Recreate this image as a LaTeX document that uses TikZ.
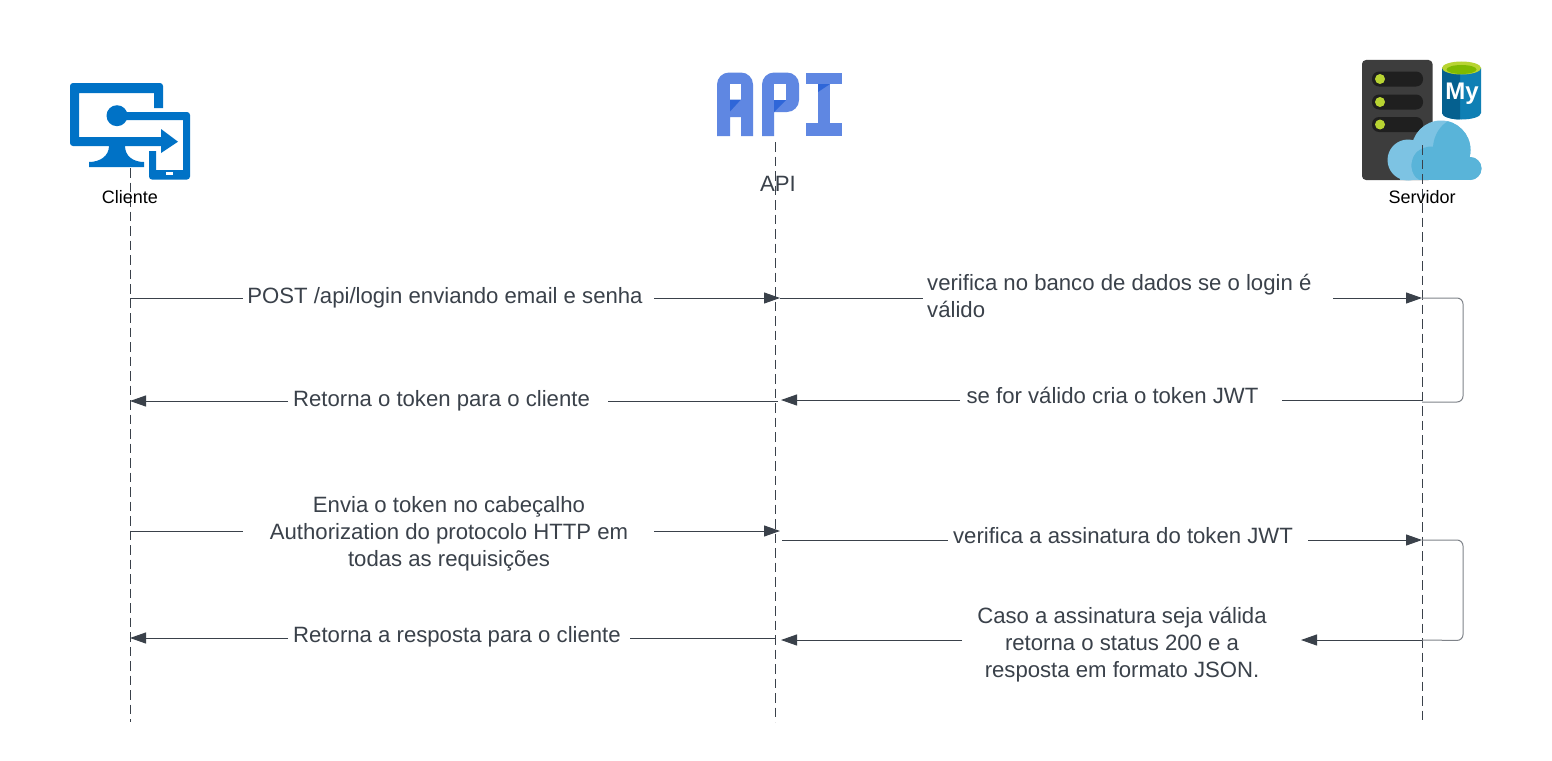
\documentclass[tikz,border=0pt]{standalone}
\usepackage{fontspec}
\setmainfont{Liberation Sans}
\usetikzlibrary{arrows.meta}
\definecolor{inkc}{HTML}{3A414A}
\definecolor{azureb}{HTML}{0072C6}
\definecolor{apib}{HTML}{5F87E2}
\definecolor{apid}{HTML}{2F66D8}
\definecolor{limeg}{HTML}{B8D432}
\definecolor{limed}{HTML}{7FBA00}
\definecolor{mysqlb}{HTML}{0F7FB4}
\definecolor{mysqld}{HTML}{05608F}
\definecolor{cloudl}{HTML}{7DC3E3}
\definecolor{cloudd}{HTML}{59B4D9}
\tikzset{
  lifeline/.style={draw=inkc, line width=0.9pt, dash pattern=on 9.5pt off 5pt},
  msg/.style={draw=inkc, line width=1pt, -{Triangle[length=16pt,width=11pt]}},
  selfcall/.style={draw=inkc!65!white, line width=1pt, rounded corners=6pt},
  lbl/.style={text=inkc, font=\fontsize{22.15}{27}\selectfont, align=center, inner sep=0pt},
  iconcap/.style={text=black, font=\fontsize{18}{20}\selectfont, inner sep=0pt},
}
\newcommand\cloudShape{
    \fill (1408,160) circle (20.5);
    \fill (1441,150) circle (29.5);
    \fill (1470,168.5) circle (11.5);
    \fill (1408,160) rectangle (1470,180);
    \fill (1400,170) rectangle (1408,180);
}
\begin{document}
\begin{tikzpicture}[x=1pt, y=-1pt]
    \useasboundingbox (0,0) rectangle (1552,760);
    \fill[white] (0,0) rectangle (1552,760);

    % client icon
    \fill[azureb, rounded corners=3pt] (163,108) -- (163,83) -- (70,83) -- (70,146)
        [sharp corners] -- (162,146) -- (162,137) -- (79,137) -- (79,93) -- (154,93) -- (154,108) -- cycle;
    \fill[azureb] (109,146) .. controls (109,156) and (100,162) .. (89,162) -- (89,167)
        -- (144,167) -- (144,162) .. controls (133,162) and (125,156) .. (125,146) -- cycle;
    \fill[azureb, rounded corners=3pt] (117,112) -- (190,112) -- (190,179.5) -- (149,179.5)
        [sharp corners] -- (149,151) -- (156,151) -- (156,170) -- (183,170) -- (183,120) -- (117,120) -- cycle;
    \fill[azureb] (117,115.7) circle (10.5);
    \fill[azureb] (161,129) -- (178,141.7) -- (161,153) -- cycle;
    \fill[white] (166,172) rectangle (173,175);

    % api icon
    \fill[apib, rounded corners=12pt] (717,136) -- (717,72.5) -- (753,72.5)
        [sharp corners] -- (753,136) -- (741,136) -- (741,117) -- (730,117) -- (730,136) -- cycle;
    \fill[white] (730,84) rectangle (741,99.5);
    \fill[apid] (730,111.5) -- (730,99.5) -- (741,99.5) -- cycle;
    \fill[apib] (762,136) -- (762,85) [rounded corners=12pt] -- (762,72.5) -- (799,72.5) -- (799,112)
        [sharp corners] -- (774,112) -- (774,136) -- cycle;
    \fill[white] (774,84) rectangle (786,100);
    \fill[apid] (774,112) -- (774,100) -- (786,100) -- cycle;
    \fill[apib] (806,72.5) rectangle (842,84);
    \fill[apib] (806,123) rectangle (842,136);
    \fill[apib] (818,84) rectangle (830,123);
    \fill[apid] (818,92) -- (818,84) -- (830,84) -- cycle;

    % server icon
    \fill[black!76, rounded corners=4pt] (1362,60) rectangle (1432.5,180);
    \foreach \ypos in {79,102,124.5} {
      \fill[black!88, rounded corners=7pt] (1372,\ypos-7.5) rectangle (1423,\ypos+7.5);
      \fill[limeg] (1380,\ypos) circle (5);
    }
    \fill[mysqlb] (1442,68) -- (1442,113) .. controls (1442,117) and (1452,119.5) .. (1461.5,119.5)
        .. controls (1471,119.5) and (1481,117) .. (1481,113) -- (1481,68) -- cycle;
    \fill[mysqld] (1442,68) -- (1442,113) .. controls (1442,117) and (1452,119.5) .. (1460,119.5)
        -- (1460,68) -- cycle;
    \fill[limeg] (1461.5,68) ellipse (19.5 and 6.5);
    \fill[limed] (1461.5,69.5) ellipse (15 and 4.5);
    \node[font=\bfseries\fontsize{24}{24}\selectfont, text=white, inner sep=0pt] (mysql) at (1462,94) {My};
    \begin{scope}[cloudl]
      \cloudShape
    \end{scope}
    \begin{scope}[cloudd]
      \clip (1422,181) .. controls (1412,178) and (1409,165) .. (1414,156)
        .. controls (1418,149) and (1426,146) .. (1433,146.5)
        .. controls (1434,135) and (1440,125) .. (1450,120) -- (1490,115) -- (1490,181) -- cycle;
      \cloudShape
    \end{scope}

    % lifelines
    \coordinate (cliTop) at (130,168);
    \coordinate (cliEnd) at (130,722);
    \coordinate (apiTop) at (775,142);
    \coordinate (apiEnd) at (775,722);
    \coordinate (srvTop) at (1422,145);
    \coordinate (srvEnd) at (1422,722);
    \draw[lifeline] (cliTop) -- (cliEnd);
    \draw[lifeline] (apiTop) -- (apiEnd);
    \draw[lifeline] (srvTop) -- (srvEnd);

    \node[iconcap] (cliCap) at (130,197) {Cliente};
    \node[lbl] (apiCap) at (778,184) {API};
    \node[iconcap] (srvCap) at (1422,197) {Servidor};

    % message labels
    \node[lbl] (m1) at (445,298) {POST /api/login enviando email e senha};
    \node[lbl, align=left, anchor=west] (m2) at (927,296) {verifica no banco de dados se o login é\\válido};
    \node[lbl] (m3) at (441.5,401) {Retorna o token para o cliente};
    \node[lbl] (m4) at (1112.5,395) {se for válido cria o token JWT};
    \node[lbl] (m5) at (449,534) {Envia o token no cabeçalho\\Authorization do protocolo HTTP em\\todas as requisições};
    \node[lbl] (m6) at (1123,536) {verifica a assinatura do token JWT};
    \node[lbl] (m7) at (457,636.5) {Retorna a resposta para o cliente};
    \node[lbl] (m8) at (1122,645) {Caso a assinatura seja válida\\retorna o status 200 e a\\resposta em formato JSON.};

    % anchors along the lifelines
    \foreach \name/\xpos/\ypos in {a1/130/298, a2/780/298, a3/243/298, a4/654/298,
        b1/780/298, b2/923/298, b3/1333/298, b4/1422/298,
        c1/288/401, c2/130/401, c3/778/401, c4/608/401,
        d1/960/400, d2/781/400, d3/1422/400, d4/1282/400,
        e1/130/531, e2/243/531, e3/654/531, e4/780/531,
        f1/782/540, f2/948/540, f3/1308/540, f4/1422/540,
        g1/288/638, g2/130/638, g3/775/638, g4/630/638,
        h1/962/640, h2/781/640, h3/1422/640, h4/1301/640}
      \coordinate (\name) at (\xpos,\ypos);

    % messages
    \draw[msg, -] (a1) -- (a3);
    \draw[msg] (a4) -- (a2);
    \draw[msg, -] (b1) -- (b2);
    \draw[msg] (b3) -- (b4);
    \draw[msg] (c1) -- (c2);
    \draw[msg, -] (c3) -- (c4);
    \draw[msg] (d1) -- (d2);
    \draw[msg, -] (d3) -- (d4);
    \draw[msg, -] (e1) -- (e2);
    \draw[msg] (e3) -- (e4);
    \draw[msg, -] (f1) -- (f2);
    \draw[msg] (f3) -- (f4);
    \draw[msg] (g1) -- (g2);
    \draw[msg, -] (g3) -- (g4);
    \draw[msg] (h1) -- (h2);
    \draw[msg] (h3) -- (h4);

    % self calls
    \draw[selfcall] (b4) -- (1463,298) -- (1463,402) -- (1422,402);
    \draw[selfcall] (f4) -- (1463,540) -- (1463,640.5) -- (h3);
\end{tikzpicture}
\end{document}
